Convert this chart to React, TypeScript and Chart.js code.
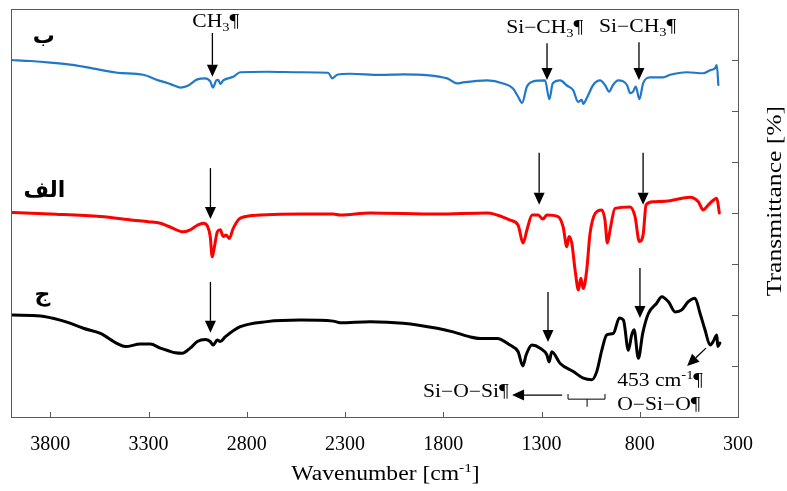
import React, { useEffect, useRef } from "react";
import { Chart, registerables } from "chart.js";
Chart.register(...registerables);

// ---------- data ----------
const xTickLabels = [3800, 3300, 2800, 2300, 1800, 1300, 800, 300];
const yTickValues = [1, 2, 3, 4, 5, 6, 7];

const blueWn = [3997, 3900, 3800, 3700, 3632, 3459, 3327, 3250, 3205, 3170, 3139, 3103, 3052, 3011, 2986, 2972, 2955, 2945, 2935, 2920, 2869, 2833, 2697, 2528, 2386, 2365, 2340, 2274, 2121, 2004, 1780, 1729, 1699, 1577, 1495, 1445, 1419, 1399, 1374, 1343, 1282, 1260, 1243, 1205, 1171, 1139, 1114, 1095, 1088, 1070, 1037, 1002, 977, 956, 936, 910, 865, 849, 834, 820, 802, 783, 748, 681, 646, 560, 478, 442, 417, 408, 400];
const blueT = [7.0, 6.98, 6.95, 6.91, 6.87, 6.75, 6.71, 6.6, 6.55, 6.5, 6.46, 6.49, 6.62, 6.64, 6.58, 6.46, 6.6, 6.61, 6.53, 6.6, 6.67, 6.76, 6.77, 6.76, 6.75, 6.64, 6.71, 6.73, 6.71, 6.72, 6.64, 6.54, 6.56, 6.6, 6.54, 6.44, 6.28, 6.16, 6.48, 6.58, 6.6, 6.23, 6.54, 6.6, 6.5, 6.41, 6.18, 6.22, 6.14, 6.25, 6.51, 6.6, 6.51, 6.38, 6.51, 6.6, 6.51, 6.35, 6.38, 6.48, 6.23, 6.54, 6.66, 6.66, 6.71, 6.76, 6.74, 6.8, 6.84, 6.9, 6.51];

const redWn = [3990, 3800, 3545, 3378, 3300, 3240, 3200, 3164, 3128, 3088, 3052, 3021, 3001, 2986, 2976, 2966, 2950, 2935, 2920, 2905, 2889, 2869, 2833, 2732, 2528, 2360, 2325, 2172, 1831, 1577, 1460, 1419, 1394, 1374, 1348, 1317, 1293, 1273, 1216, 1190, 1171, 1160, 1146, 1129, 1112, 1100, 1087, 1070, 1053, 1027, 993, 977, 965, 951, 926, 849, 824, 802, 782, 768, 731, 646, 544, 502, 477, 451, 426, 408, 395];
const redT = [4.01, 3.98, 3.93, 3.86, 3.83, 3.8, 3.74, 3.68, 3.63, 3.67, 3.76, 3.8, 3.75, 3.54, 3.14, 3.31, 3.63, 3.67, 3.54, 3.57, 3.5, 3.7, 3.9, 3.96, 3.98, 3.98, 3.96, 4.0, 3.98, 4.0, 3.86, 3.76, 3.41, 3.67, 3.96, 3.96, 3.88, 3.96, 3.93, 3.73, 3.34, 3.54, 3.41, 2.88, 2.49, 2.72, 2.52, 2.88, 3.6, 3.99, 4.06, 3.86, 3.41, 3.67, 4.09, 4.12, 3.93, 3.44, 3.6, 4.16, 4.22, 4.24, 4.31, 4.22, 4.06, 4.16, 4.25, 4.29, 4.0];

const blackWn = [3990, 3850, 3750, 3700, 3632, 3545, 3459, 3418, 3342, 3291, 3240, 3200, 3164, 3128, 3088, 3052, 3011, 2986, 2971, 2950, 2935, 2910, 2833, 2697, 2528, 2360, 2325, 2172, 2004, 1831, 1750, 1663, 1612, 1526, 1460, 1419, 1395, 1378, 1349, 1307, 1273, 1261, 1248, 1205, 1138, 1087, 1044, 1019, 993, 968, 934, 904, 883, 858, 841, 829, 807, 785, 756, 714, 688, 654, 620, 586, 553, 519, 493, 468, 442, 426, 408, 403, 392];
const blackT = [2.0, 1.98, 1.9, 1.84, 1.74, 1.64, 1.44, 1.38, 1.43, 1.43, 1.35, 1.3, 1.26, 1.25, 1.35, 1.48, 1.52, 1.48, 1.41, 1.51, 1.48, 1.57, 1.77, 1.87, 1.9, 1.88, 1.85, 1.87, 1.84, 1.74, 1.67, 1.57, 1.54, 1.54, 1.41, 1.28, 1.0, 1.22, 1.41, 1.35, 1.22, 1.08, 1.28, 1.05, 0.89, 0.76, 0.73, 0.89, 1.31, 1.61, 1.64, 1.94, 1.9, 1.31, 1.61, 1.71, 1.15, 1.64, 2.03, 2.23, 2.36, 2.26, 2.06, 2.1, 2.26, 2.33, 2.03, 1.71, 1.41, 1.48, 1.61, 1.38, 1.45];

// arrows in data coordinates: [fromWn, fromT, toWn, toT]
const arrows = [
  [2975, 7.53, 2975, 6.67],
  [2985, 4.88, 2985, 3.88],
  [2985, 2.65, 2985, 1.65],
  [1272, 7.33, 1272, 6.61],
  [804, 7.35, 804, 6.61],
  [1312, 5.18, 1312, 4.16],
  [783, 5.18, 783, 4.16],
  [1267, 2.45, 1267, 1.47],
  [799, 2.92, 799, 1.94],
  [463, 1.35, 559, 1.0],
  [1195, 0.43, 1450, 0.43],
];

const SERIF = '"Liberation Serif", "Times New Roman", serif';

type Run = [string, number]; // 0 normal, 1 sub, 2 sup

function drawRuns(ctx: CanvasRenderingContext2D, runs: Run[], x: number, y: number, size: number, sx: number, align: string) {
  ctx.save();
  ctx.translate(x, y);
  ctx.scale(sx, 1);
  ctx.textBaseline = "alphabetic";
  ctx.textAlign = "left";
  const fontFor = (k: number) => `${k === 0 ? size : Math.round(size * 0.65)}px ${SERIF}`;
  let total = 0;
  const widths = runs.map(([t, k]) => {
    ctx.font = fontFor(k);
    const w = ctx.measureText(t).width;
    total += w;
    return w;
  });
  let cx = align === "center" ? -total / 2 : align === "right" ? -total : 0;
  runs.forEach(([t, k], i) => {
    ctx.font = fontFor(k);
    const dy = k === 1 ? size * 0.22 : k === 2 ? -size * 0.38 : 0;
    ctx.fillText(t, cx, dy);
    cx += widths[i];
  });
  ctx.restore();
}

const overlay = {
  id: "overlay",
  afterDatasetsDraw(chart: any) {
    const { ctx, chartArea: a, scales } = chart;
    const X = (v: number) => scales.x.getPixelForValue(v);
    const Y = (v: number) => scales.y.getPixelForValue(v);
    ctx.save();
    // frame
    ctx.strokeStyle = "#595959";
    ctx.lineWidth = 1;
    ctx.strokeRect(Math.round(a.left) + 0.5, Math.round(a.top) + 0.5, Math.round(a.right - a.left), Math.round(a.bottom - a.top));
    // inside tick marks
    ctx.beginPath();
    xTickLabels.forEach((v) => {
      const px = Math.round(X(v)) + 0.5;
      ctx.moveTo(px, a.bottom);
      ctx.lineTo(px, a.bottom - 5);
    });
    yTickValues.forEach((v) => {
      const py = Math.round(Y(v)) + 0.5;
      ctx.moveTo(a.right, py);
      ctx.lineTo(a.right - 6, py);
    });
    ctx.stroke();

    // arrows
    ctx.strokeStyle = "#000";
    ctx.fillStyle = "#000";
    ctx.lineWidth = 1.3;
    arrows.forEach(([w1, t1, w2, t2]) => {
      const x1 = X(w1), y1 = Y(t1), x2 = X(w2), y2 = Y(t2);
      const ang = Math.atan2(y2 - y1, x2 - x1);
      const hl = 12, hw = 5.5;
      const bx = x2 - hl * Math.cos(ang), by = y2 - hl * Math.sin(ang);
      ctx.beginPath();
      ctx.moveTo(x1, y1);
      ctx.lineTo(bx, by);
      ctx.stroke();
      ctx.beginPath();
      ctx.moveTo(x2, y2);
      ctx.lineTo(bx + hw * Math.sin(ang), by - hw * Math.cos(ang));
      ctx.lineTo(bx - hw * Math.sin(ang), by + hw * Math.cos(ang));
      ctx.closePath();
      ctx.fill();
    });

    // bracket under Si-O-Si band
    ctx.lineWidth = 1;
    ctx.beginPath();
    ctx.moveTo(X(1165), Y(0.45));
    ctx.lineTo(X(1165), Y(0.35));
    ctx.lineTo(X(977), Y(0.35));
    ctx.lineTo(X(977), Y(0.45));
    ctx.moveTo(X(1068), Y(0.35));
    ctx.lineTo(X(1068), Y(0.2));
    ctx.stroke();

    // annotation text
    const S = 18, SX = 1.2;
    drawRuns(ctx, [["CH", 0], ["3", 1], ["¶", 0]], X(3077), Y(7.65), S, SX, "left");
    drawRuns(ctx, [["Si−CH", 0], ["3", 1], ["¶", 0]], X(1480), Y(7.53), S, SX, "left");
    drawRuns(ctx, [["Si−CH", 0], ["3", 1], ["¶", 0]], X(1007), Y(7.55), S, SX, "left");
    drawRuns(ctx, [["Si−O−Si¶", 0]], X(1903), Y(0.39), S, SX, "left");
    drawRuns(ctx, [["453 cm", 0], ["-1", 2], ["¶", 0]], X(915), Y(0.61), S, SX, "left");
    drawRuns(ctx, [["O−Si−O¶", 0]], X(915), Y(0.14), S, SX, "left");

    // Arabic series labels
    ctx.font = 'bold 22px "DejaVu Sans", "Noto Sans", sans-serif';
    ctx.textAlign = "center";
    ctx.textBaseline = "middle";
    ctx.fillText("ب", X(3833), Y(7.45));
    ctx.fillText("الف", X(3830), Y(4.43));
    ctx.fillText("ج", X(3840), Y(2.39));

    // axis titles
    drawRuns(ctx, [["Wavenumber [cm", 0], ["-1", 2], ["]", 0]], (a.left + a.right) / 2 + 11, 480, 20, 1.18, "center");
    ctx.save();
    ctx.translate(781, (a.top + a.bottom) / 2 - 12);
    ctx.rotate(-Math.PI / 2);
    drawRuns(ctx, [["Transmittance [%]", 0]], 0, 0, 20, 1.28, "center");
    ctx.restore();
    ctx.restore();
  },
};

export default function App() {
  const ref = useRef<HTMLCanvasElement | null>(null);
  useEffect(() => {
    if (!ref.current) return;
    const mk = (wn: number[], t: number[]) => wn.map((w, i) => ({ x: w, y: t[i] }));
    const lineStyle = { pointRadius: 0, cubicInterpolationMode: "monotone", borderJoinStyle: "round", borderCapStyle: "round" };
    const chart = new Chart(ref.current, {
      type: "line",
      data: {
        datasets: [
          { data: mk(blueWn, blueT), borderColor: "#1f78c9", borderWidth: 2.2, ...lineStyle },
          { data: mk(redWn, redT), borderColor: "#ff0000", borderWidth: 3, ...lineStyle },
          { data: mk(blackWn, blackT), borderColor: "#000000", borderWidth: 3, ...lineStyle },
        ],
      },
      options: {
        responsive: false,
        animation: false,
        events: [],
        layout: { padding: { left: 11, top: 9, right: 0, bottom: 0 } },
        plugins: { legend: { display: false }, tooltip: { enabled: false } },
        scales: {
          x: {
            type: "linear",
            reverse: true,
            min: 300,
            max: 4000,
            position: "bottom",
            grid: { display: false, drawTicks: false },
            border: { display: false },
            afterBuildTicks: (s: any) => {
              s.ticks = xTickLabels.map((v) => ({ value: v }));
            },
            afterFit: (s: any) => {
              s.height = 74;
            },
            ticks: {
              color: "#000",
              padding: 16,
              maxRotation: 0,
              autoSkip: false,
              font: { family: SERIF, size: 20 },
              callback: (v: any) => String(v),
            },
          },
          y: {
            type: "linear",
            position: "right",
            min: 0,
            max: 8,
            grid: { display: false, drawTicks: false },
            border: { display: false },
            ticks: { display: false },
            afterFit: (s: any) => {
              s.width = 49;
            },
          },
        },
      },
      plugins: [overlay],
    } as any);
    return () => chart.destroy();
  }, []);
  return (
    <div style={{ position: "absolute", left: 0, top: 0, width: 787, height: 491, background: "#fff" }}>
      <canvas ref={ref} width={787} height={491} />
    </div>
  );
}
